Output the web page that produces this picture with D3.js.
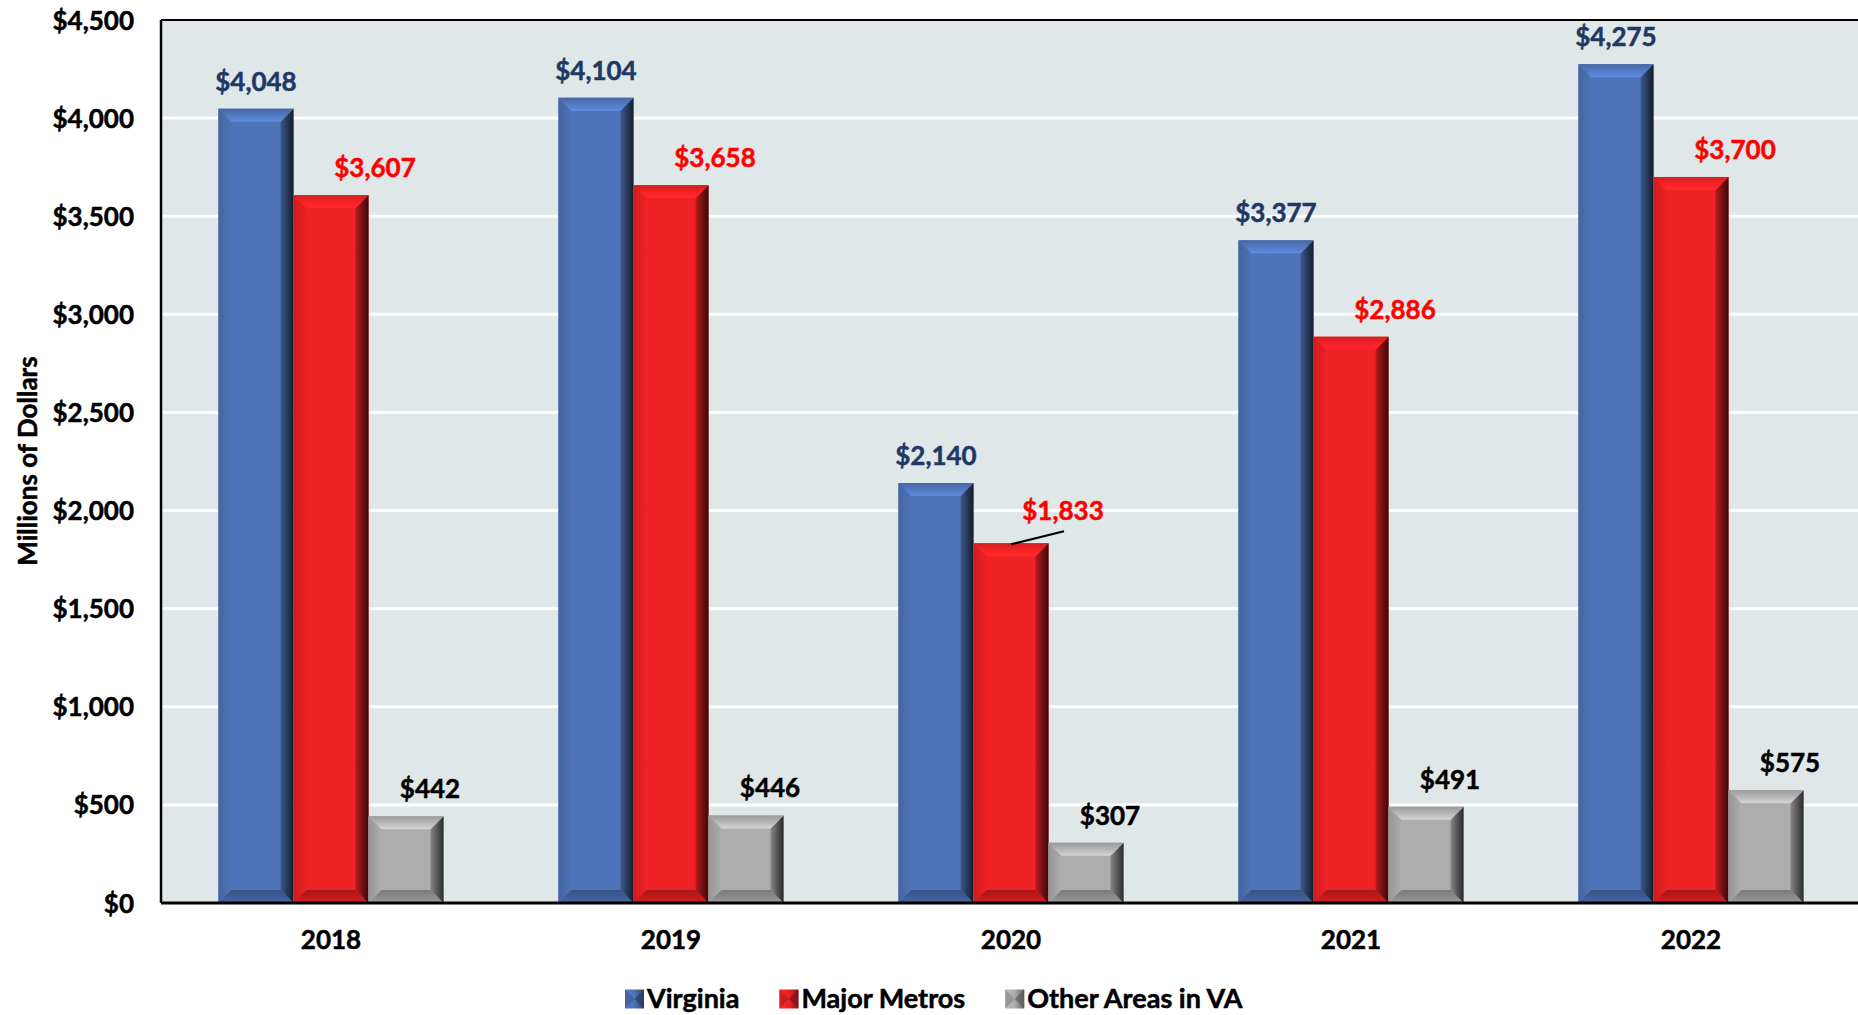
<!DOCTYPE html>
<html><head><meta charset="utf-8">
<script src="https://cdn.jsdelivr.net/npm/d3@7"></script>
<style>
html,body{margin:0;padding:0;background:#fff;}
text{font-family:Lato,"Open Sans",sans-serif;font-weight:bold;}
</style></head>
<body><svg id="c" width="1858" height="1015"></svg>
<script>
const years = ["2018","2019","2020","2021","2022"];
const seriesNames = ["Virginia","Major Metros","Other Areas in VA"];
const virginia = [4048,4104,2140,3377,4275];
const majorMetros = [3607,3658,1833,2886,3700];
const otherAreas = [442,446,307,491,575];
const yTicks = [0,500,1000,1500,2000,2500,3000,3500,4000,4500];
const leaderYears = ["2020"];

const seriesValues = [virginia, majorMetros, otherAreas];
const baseColors = ["#4E73B8","#EE2124","#ADADAD"];
const labelColors = ["#1F3864","#FF0000","#000000"];
const labelDx = [0, 44, 24];

const m = {left:161, top:20, bottom:903, right:1861};
const svg = d3.select("#c");
const defs = svg.append("defs");

const y = d3.scaleLinear().domain([0,4500]).range([m.bottom, m.top]);
const x0 = d3.scaleBand().domain(years).range([m.left, m.right]).paddingInner(0.338).paddingOuter(0.169);
const x1 = d3.scaleBand().domain(seriesNames).range([0, x0.bandwidth()]);

function bold(sel, color){
  sel.attr("fill",color).attr("stroke",color).attr("stroke-width",0.5).attr("font-family","Lato").attr("font-weight","bold");
  return sel;
}

svg.append("rect").attr("x",m.left).attr("y",m.top).attr("width",m.right-m.left).attr("height",m.bottom-m.top).attr("fill","#DFE7E8");

svg.append("g").selectAll("line").data(yTicks.filter(d=>d>0 && d<4500)).join("line")
  .attr("x1",m.left).attr("x2",m.right).attr("y1",d=>y(d)).attr("y2",d=>y(d))
  .attr("stroke","#fff").attr("stroke-width",3);

baseColors.forEach((c,i)=>{
  const col = d3.color(c);
  const gR = defs.append("linearGradient").attr("id","gr"+i).attr("x1","0").attr("x2","1").attr("y1","0").attr("y2","0");
  gR.append("stop").attr("offset","0").attr("stop-color",col.darker(0.7));
  gR.append("stop").attr("offset","1").attr("stop-color",col.darker(4));
  const gT = defs.append("linearGradient").attr("id","gt"+i).attr("x1","0").attr("x2","0").attr("y1","0").attr("y2","1");
  gT.append("stop").attr("offset","0").attr("stop-color",col.darker(0.3));
  gT.append("stop").attr("offset","0.75").attr("stop-color",col.brighter(0.35));
  gT.append("stop").attr("offset","1").attr("stop-color",col.brighter(0.6));
  const gB = defs.append("linearGradient").attr("id","gb"+i).attr("x1","0").attr("x2","0").attr("y1","0").attr("y2","1");
  gB.append("stop").attr("offset","0").attr("stop-color",col.darker(1.0));
  gB.append("stop").attr("offset","1").attr("stop-color",col.darker(0.3));
  const gL = defs.append("linearGradient").attr("id","gl"+i).attr("x1","0").attr("x2","1").attr("y1","0").attr("y2","0");
  gL.append("stop").attr("offset","0").attr("stop-color",col.darker(0.4));
  gL.append("stop").attr("offset","1").attr("stop-color",col);
});

const bars = [];
years.forEach((yr,j)=>{
  seriesNames.forEach((s,i)=>{
    bars.push({yr, j, s, i, v: seriesValues[i][j]});
  });
});

const gBars = svg.append("g");
const pts = a=>a.map(p=>p.join(",")).join(" ");
bars.forEach(d=>{
  const bx = x0(d.yr)+x1(d.s), w = x1.bandwidth();
  const by = y(d.v), h = y(0)-y(d.v), b = Math.min(13, h/2);
  const g = gBars.append("g");
  g.append("rect").attr("x",bx).attr("y",by).attr("width",w).attr("height",h).attr("fill",baseColors[d.i]);
  g.append("polygon").attr("points",pts([[bx,by],[bx+b,by+b],[bx+b,by+h-b],[bx,by+h]])).attr("fill",`url(#gl${d.i})`);
  g.append("polygon").attr("points",pts([[bx+w,by],[bx+w,by+h],[bx+w-b,by+h-b],[bx+w-b,by+b]])).attr("fill",`url(#gr${d.i})`);
  g.append("polygon").attr("points",pts([[bx,by],[bx+w,by],[bx+w-b,by+b],[bx+b,by+b]])).attr("fill",`url(#gt${d.i})`);
  g.append("polygon").attr("points",pts([[bx,by+h],[bx+b,by+h-b],[bx+w-b,by+h-b],[bx+w,by+h]])).attr("fill",`url(#gb${d.i})`);
});

svg.append("line").attr("x1",m.left).attr("x2",m.right).attr("y1",m.top).attr("y2",m.top).attr("stroke","#000").attr("stroke-width",2);
svg.append("line").attr("x1",m.left).attr("x2",m.left).attr("y1",m.top).attr("y2",m.bottom).attr("stroke","#000").attr("stroke-width",2.5);
svg.append("line").attr("x1",m.left).attr("x2",m.right).attr("y1",m.bottom).attr("y2",m.bottom).attr("stroke","#000").attr("stroke-width",3);

const yAxis = d3.axisLeft(y).tickValues(yTicks).tickSize(0).tickPadding(0).tickFormat(d=>"$"+d3.format(",")(d));
const ya = svg.append("g").attr("transform",`translate(${m.left-27},0)`).call(yAxis);
ya.select(".domain").remove();
bold(ya.selectAll("text"),"#000").attr("font-size",26).attr("dy","0.35em");

const xAxis = d3.axisBottom(x0).tickSize(0).tickPadding(0);
const xa = svg.append("g").attr("transform",`translate(0,${m.bottom+28})`).call(xAxis);
xa.select(".domain").remove();
bold(xa.selectAll("text"),"#000").attr("font-size",26).attr("dy","0.7em");

bold(svg.append("text"),"#000").attr("transform",`translate(28,461) rotate(-90)`).attr("dy","0.35em")
  .attr("text-anchor","middle").attr("font-size",26).text("Millions of Dollars");

bars.forEach(d=>{
  const cx = x0(d.yr)+x1(d.s)+x1.bandwidth()/2;
  const leader = d.i===1 && leaderYears.includes(d.yr);
  const ty = y(d.v) - (leader ? 23 : 18);
  bold(svg.append("text"),labelColors[d.i]).attr("x",cx + labelDx[d.i] + (leader?8:0)).attr("y",ty).attr("text-anchor","middle")
    .attr("font-size",26).text("$"+d3.format(",")(d.v));
  if(leader){
    svg.append("line").attr("x1",cx).attr("y1",y(d.v)+1).attr("x2",cx+53).attr("y2",y(d.v)-12)
      .attr("stroke","#000").attr("stroke-width",2);
  }
});

const leg = svg.append("g").attr("transform","translate(625,999)");
let lx = 0;
seriesNames.forEach((s,i)=>{
  const col = d3.color(baseColors[i]);
  const gid = "lg"+i;
  const lg = defs.append("linearGradient").attr("id",gid).attr("x1","0").attr("x2","1");
  lg.append("stop").attr("offset","0").attr("stop-color",col.brighter(0.2));
  lg.append("stop").attr("offset","0.5").attr("stop-color",col);
  lg.append("stop").attr("offset","1").attr("stop-color",col.darker(1.5));
  const sw = 19;
  leg.append("rect").attr("x",lx).attr("y",-sw/2).attr("width",sw).attr("height",sw).attr("fill",`url(#${gid})`);
  leg.append("polygon").attr("points",`${lx},${-sw/2} ${lx+sw/2},0 ${lx},${sw/2}`).attr("fill",col.darker(0.8)).attr("opacity",0.6);
  leg.append("polygon").attr("points",`${lx+sw},${-sw/2} ${lx+sw/2},0 ${lx+sw},${sw/2}`).attr("fill",col.darker(2)).attr("opacity",0.6);
  const t = bold(leg.append("text"),"#000").attr("x",lx+sw+3).attr("y",0).attr("dy","0.35em").attr("font-size",27).text(s);
  lx += sw + 3 + t.node().getComputedTextLength() + 40;
});
</script></body></html>
